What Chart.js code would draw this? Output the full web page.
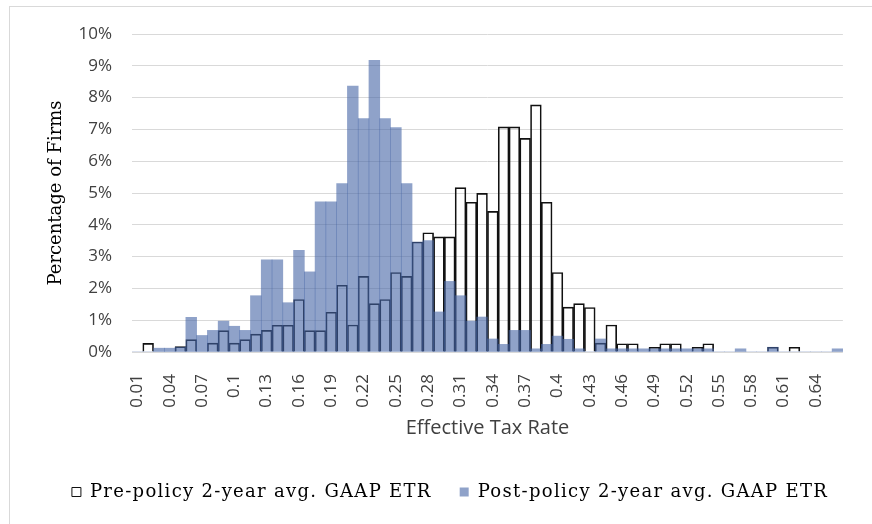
<!DOCTYPE html>
<html>
<head>
<meta charset="utf-8">
<script src="https://cdn.jsdelivr.net/npm/chart.js@4/dist/chart.umd.min.js"></script>
<style>
  body { margin: 0; background: #fff; overflow: hidden; }
  #wrap { position: relative; width: 872px; height: 524px; }
  #frame { position: absolute; left: 9px; top: 6px; width: 900px; height: 600px; border: 1px solid #d9d9d9; pointer-events: none; }
</style>
</head>
<body>
<div id="wrap">
  <canvas id="chart" width="872" height="524"></canvas>
  <div id="frame"></div>
</div>
<script>
// effective tax rate bins
const rates = [
    '0.01', '0.02', '0.03', '0.04', '0.05', '0.06', '0.07', '0.08', '0.09', '0.1',
    '0.11', '0.12', '0.13', '0.14', '0.15', '0.16', '0.17', '0.18', '0.19', '0.2',
    '0.21', '0.22', '0.23', '0.24', '0.25', '0.26', '0.27', '0.28', '0.29', '0.3',
    '0.31', '0.32', '0.33', '0.34', '0.35', '0.36', '0.37', '0.38', '0.39', '0.4',
    '0.41', '0.42', '0.43', '0.44', '0.45', '0.46', '0.47', '0.48', '0.49', '0.5',
    '0.51', '0.52', '0.53', '0.54', '0.55', '0.56', '0.57', '0.58', '0.59', '0.6',
    '0.61', '0.62', '0.63', '0.64', '0.65', '0.66'
];

// percentage of firms (%)
const prePolicy = [
    0, 0.27, 0, 0, 0.17, 0.39, 0, 0.28, 0.67, 0.28,
    0.39, 0.56, 0.68, 0.84, 0.84, 1.65, 0.67, 0.67, 1.25, 2.10,
    0.85, 2.38, 1.52, 1.65, 2.50, 2.38, 3.46, 3.75, 3.62, 3.62,
    5.17, 4.71, 4.99, 4.42, 7.08, 7.08, 6.72, 7.77, 4.71, 2.50,
    1.41, 1.52, 1.40, 0.28, 0.85, 0.26, 0.26, 0, 0.15, 0.26,
    0.26, 0, 0.15, 0.26, 0, 0, 0, 0, 0, 0.15,
    0, 0.15, 0, 0, 0, 0
];
const postPolicy = [
    0, 0, 0.12, 0.12, 0.15, 1.09, 0.52, 0.68, 0.97, 0.81,
    0.68, 1.77, 2.90, 2.90, 1.55, 3.20, 2.52, 4.72, 4.72, 5.30,
    8.36, 7.34, 9.17, 7.34, 7.06, 5.30, 3.46, 3.50, 1.26, 2.22,
    1.77, 0.97, 1.10, 0.41, 0.24, 0.68, 0.68, 0.10, 0.24, 0.50,
    0.40, 0.10, 0, 0.41, 0.10, 0.10, 0.10, 0.10, 0.10, 0.10,
    0.10, 0.10, 0.10, 0.10, 0, 0, 0.10, 0, 0, 0.15,
    0, 0, 0, 0, 0, 0.10
];

const seriesNames = ['Pre-policy 2-year avg. GAAP ETR', 'Post-policy 2-year avg. GAAP ETR'];
const yTicks = [0, 1, 2, 3, 4, 5, 6, 7, 8, 9, 10];

const legendSpacing = '1.3px';

// legend text in the source is spaced out, widen it
const spacedLegend = {
    id: 'spacedLegend',
    afterInit(chart) {
        const lg = chart.legend;
        if (!lg) return;
        const ctx = chart.ctx;
        for (const fn of ['fit', 'draw']) {
            const orig = lg[fn].bind(lg);
            lg[fn] = function (...args) {
                ctx.save();
                ctx.letterSpacing = legendSpacing;
                orig(...args);
                ctx.restore();
            };
        }
    }
};

const ctx = document.getElementById('chart').getContext('2d');
const chart = new Chart(ctx, {
    type: 'bar',
    data: {
        labels: rates,
        datasets: [
            {
                label: seriesNames[0],
                data: prePolicy,
                backgroundColor: 'rgba(255,255,255,0)',
                borderColor: '#111',
                borderWidth: 1,
                order: 2
            },
            {
                label: seriesNames[1],
                data: postPolicy,
                backgroundColor: 'rgba(68,100,165,0.6)',
                borderWidth: 0,
                order: 1
            }
        ]
    },
    options: {
        responsive: false,
        animation: false,
        layout: {
            padding: { left: 41, right: 13, top: 34, bottom: 13 }
        },
        datasets: {
            bar: {
                grouped: false,
                categoryPercentage: 1,
                barPercentage: 1
            }
        },
        scales: {
            x: {
                grid: { display: false },
                border: { display: false },
                ticks: {
                    autoSkip: false,
                    minRotation: 90,
                    maxRotation: 90,
                    padding: 14,
                    color: '#404040',
                    font: { family: 'Open Sans', size: 17 },
                    callback: function (value, index) {
                        return index % 3 === 0 ? rates[index] : '';
                    }
                },
                title: {
                    display: true,
                    text: 'Effective Tax Rate',
                    color: '#404040',
                    font: { family: 'Open Sans', size: 20 },
                    padding: { top: 0, bottom: 15 }
                },
                afterFit: (scale) => { scale.height = 103; }
            },
            y: {
                min: 0,
                max: 10,
                afterBuildTicks: (scale) => {
                    scale.ticks = yTicks.map(v => ({ value: v }));
                },
                grid: { color: '#d9d9d9', lineWidth: 1, drawTicks: false },
                border: { display: false },
                ticks: {
                    padding: 20,
                    color: '#404040',
                    font: { family: 'Open Sans', size: 17 },
                    callback: (v) => v + '%'
                },
                title: {
                    display: true,
                    text: 'Percentage of Firms',
                    color: '#000',
                    font: { family: 'DejaVu Serif', size: 18 },
                    padding: { top: 5, bottom: 0 }
                },
                afterFit: (scale) => { scale.width = 91; }
            }
        },
        plugins: {
            legend: {
                position: 'bottom',
                labels: {
                    boxWidth: 9,
                    boxHeight: 9,
                    padding: 28,
                    color: '#000',
                    font: { family: 'DejaVu Serif', size: 18 },
                    sort: (a, b) => a.datasetIndex - b.datasetIndex
                }
            },
            tooltip: { enabled: false }
        }
    },
    plugins: [spacedLegend]
});
</script>
</body>
</html>
